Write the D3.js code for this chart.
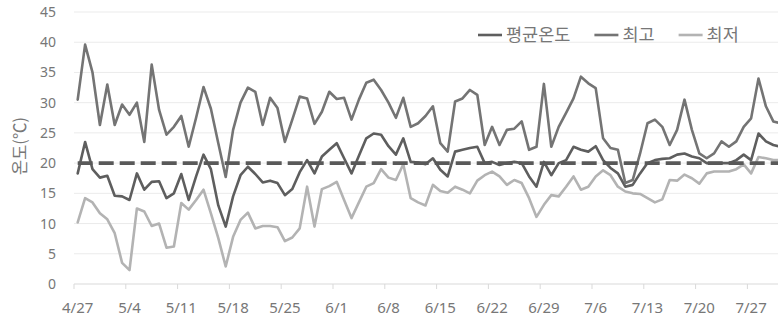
<!DOCTYPE html>
<html>
<head>
<meta charset="utf-8">
<script src="https://cdn.jsdelivr.net/npm/d3@7"></script>
<style>
  body { margin: 0; background: #fff; }
  svg { display: block; }
</style>
</head>
<body>
<div id="chart"></div>
<script>
// Daily temperatures, 4/27 .. 7/31 (one value per day)
const startDate = new Date(2020, 3, 27);
const dayCount = 96;

const tickLabels = ["4/27", "5/4", "5/11", "5/18", "5/25", "6/1", "6/8",
                    "6/15", "6/22", "6/29", "7/6", "7/13", "7/20", "7/27"];
const yTicks = [0, 5, 10, 15, 20, 25, 30, 35, 40, 45];
const seriesNames = ["평균온도", "최고", "최저"];
const refTemp = 20;

const avgTemp = [
  18.3, 23.5, 19, 17.6, 17.9, 14.6, 14.5, 13.9, 18.3, 15.6, 16.9, 17, 14.2, 15, 18.2, 13.9,
  17.8, 21.4, 19, 13, 9.5, 14.5, 18, 19.4, 18.2, 16.8, 17.1, 16.7, 14.7, 15.7, 18.5, 20.5,
  18.3, 21.1, 22.2, 23.3, 20.8, 18.3, 21.2, 24.1, 24.9, 24.7, 22.8, 21.4, 24.1, 20.2, 20.1, 19.8,
  20.8, 18.9, 17.8, 21.9, 22.2, 22.5, 22.7, 20, 20.2, 19.7, 20, 20.2, 20, 17.8, 16.1, 20.2,
  18, 20, 20.5, 22.7, 22.2, 21.9, 22.8, 20.5, 19.2, 18.3, 16.1, 16.4, 18.3, 20, 20.5, 20.7,
  20.8, 21.4, 21.6, 21.1, 20.8, 20, 20, 20, 20, 20.5, 21.4, 20.5, 24.9, 23.6, 23, 22.7
];
const maxTemp = [
  30.5, 39.6, 35, 26.3, 33, 26.3, 29.7, 28, 30, 23.5, 36.3, 28.8, 24.7, 26, 27.8, 22.7,
  27.5, 32.6, 29, 23.3, 17.7, 25.5, 30, 32.5, 31.8, 26.3, 30.8, 29.1, 23.5, 27.2, 31, 30.7,
  26.5, 28.5, 31.8, 30.6, 30.8, 27.2, 30.5, 33.3, 33.8, 32.1, 30, 27.5, 30.8, 26, 26.6, 27.8,
  29.4, 23.3, 21.9, 30.2, 30.7, 32.1, 31.3, 23, 26, 23, 25.5, 25.7, 26.9, 22.2, 22.7, 33.1,
  22.7, 26, 28.3, 30.7, 34.3, 33.2, 32.4, 24.1, 22.5, 22.2, 16.7, 17.2, 21.6, 26.6, 27.2, 26,
  23, 25.5, 30.5, 25.5, 21.6, 20.8, 21.6, 23.6, 22.7, 23.6, 26, 27.4, 34, 29.4, 26.9, 26.6
];
const minTemp = [
  10.2, 14.2, 13.5, 11.7, 10.7, 8.4, 3.5, 2.3, 12.5, 12, 9.6, 10, 6, 6.2, 13.4, 12.3,
  13.9, 15.6, 11.7, 7.6, 2.9, 7.8, 10.6, 11.8, 9.2, 9.6, 9.6, 9.4, 7.1, 7.7, 9.2, 16.1,
  9.5, 15.7, 16.2, 16.9, 13.9, 10.9, 13.5, 16.1, 16.7, 19, 17.6, 17.2, 19.8, 14.2, 13.5, 13,
  16.4, 15.4, 15.1, 16.1, 15.6, 15, 17.1, 18, 18.6, 17.8, 16.4, 17.2, 16.7, 14.2, 11.1, 13.1,
  14.7, 14.5, 16.1, 17.8, 15.6, 16.1, 17.8, 18.8, 18, 16.1, 15.3, 15, 14.9, 14.2, 13.5, 14,
  17.2, 17.1, 18.1, 17.5, 16.6, 18.3, 18.6, 18.6, 18.6, 19, 19.8, 18.3, 21, 20.8, 20.5, 20.5
];

const colors = ["#5e5e5e", "#747474", "#b3b3b3"];
const textColor = "#777777";
const fontKr = "'Noto Sans CJK KR', 'Noto Sans', sans-serif";
const fontNum = "'Noto Sans', 'DejaVu Sans', sans-serif";

const width = 778, height = 319;
const plotLeft = 74, plotTop = 12, plotBottom = 284, dayWidth = 7.4;

const fmt = d3.timeFormat("%-m/%-d");
const days = d3.range(dayCount).map(i => fmt(d3.timeDay.offset(startDate, i)));

const x = d3.scaleBand().domain(days).range([plotLeft, plotLeft + dayWidth * dayCount]);
const y = d3.scaleLinear().domain([0, 45]).range([plotBottom, plotTop]);
const cx = d => x(d) + x.bandwidth() / 2;

const svg = d3.select("#chart").append("svg")
    .attr("width", width).attr("height", height);

// horizontal grid
svg.append("g").selectAll("line").data(yTicks.filter(v => v > 0)).enter().append("line")
    .attr("x1", plotLeft).attr("x2", width)
    .attr("y1", d => y(d)).attr("y2", d => y(d))
    .attr("stroke", "#ebebeb").attr("stroke-width", 1);

// category axis line + tick marks at week boundaries
svg.append("line")
    .attr("x1", plotLeft).attr("x2", width)
    .attr("y1", y(0)).attr("y2", y(0))
    .attr("stroke", "#d9d9d9").attr("stroke-width", 1);

svg.append("g").selectAll("line").data(tickLabels).enter().append("line")
    .attr("x1", d => x(d)).attr("x2", d => x(d))
    .attr("y1", y(0)).attr("y2", y(0) + 5)
    .attr("stroke", "#d9d9d9").attr("stroke-width", 1);

svg.append("g").selectAll("text").data(tickLabels).enter().append("text")
    .attr("x", d => cx(d)).attr("y", 313)
    .attr("text-anchor", "middle")
    .attr("font-family", fontNum).attr("font-size", 15)
    .attr("fill", textColor)
    .text(d => d);

// value axis labels
svg.append("g").selectAll("text").data(yTicks).enter().append("text")
    .attr("x", 56).attr("y", d => y(d) + 5)
    .attr("text-anchor", "end")
    .attr("font-family", fontNum).attr("font-size", 14)
    .attr("fill", textColor)
    .text(d => d);

svg.append("text")
    .attr("transform", "translate(26,146) rotate(-90)")
    .attr("text-anchor", "middle")
    .attr("font-family", fontKr).attr("font-size", 16.5)
    .attr("fill", textColor)
    .text("온도(℃)");

// series
const line = d3.line().x((d, i) => cx(days[i])).y(d => y(d));

[avgTemp, maxTemp, minTemp].forEach((s, k) => {
    svg.append("path").datum(s)
        .attr("d", line)
        .attr("fill", "none")
        .attr("stroke", colors[k])
        .attr("stroke-width", 2.6)
        .attr("stroke-linejoin", "round")
        .attr("stroke-linecap", "round");
});

// reference line at 20℃
svg.append("line")
    .attr("x1", cx(days[0])).attr("x2", cx(days[dayCount - 1]))
    .attr("y1", y(refTemp)).attr("y2", y(refTemp))
    .attr("stroke", "#595959").attr("stroke-width", 3.6)
    .attr("stroke-dasharray", "15,6");

// legend
const legend = svg.append("g");
let lx = 478;
seriesNames.forEach((name, k) => {
    legend.append("line")
        .attr("x1", lx).attr("x2", lx + 24)
        .attr("y1", 35).attr("y2", 35)
        .attr("stroke", colors[k]).attr("stroke-width", 2.6);
    const t = legend.append("text")
        .attr("x", lx + 28).attr("y", 41)
        .attr("font-family", fontKr).attr("font-size", 17.5)
        .attr("fill", textColor)
        .text(name);
    lx += 28 + t.node().getComputedTextLength() + 24;
});
</script>
</body>
</html>
